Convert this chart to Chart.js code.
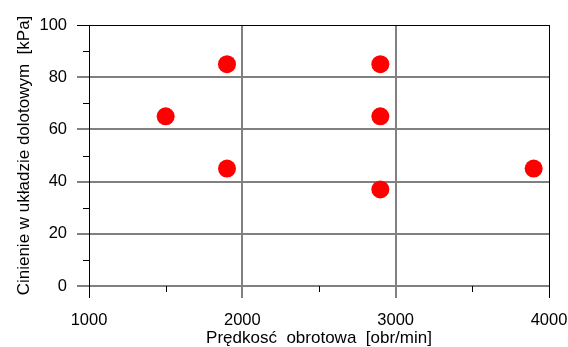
<!DOCTYPE html>
<html lang="pl">
<head>
<meta charset="UTF-8">
<title>Cinienie w układzie dolotowym</title>
<script src="https://cdn.jsdelivr.net/npm/chart.js"></script>
<style>
    html, body { margin: 0; padding: 0; background: #fff; }
    #wrap { width: 568px; height: 347px; }
</style>
</head>
<body>
<div id="wrap"><canvas id="myChart"></canvas></div>
<script>
    // data
    var speed = [1500, 1900, 1900, 2900, 2900, 2900, 3900];
    var pressure = [65, 85, 45, 85, 65, 37, 45];
    var xLabels = [1000, 2000, 3000, 4000];
    var yLabels = [0, 20, 40, 60, 80, 100];

    var GRAY = '#808080';
    var FONT = 'Liberation Sans, Arial, sans-serif';

    var points = speed.map(function (s, i) { return { x: s, y: pressure[i] }; });

    // short minor tick marks (library only has one tick length per axis)
    var minorTicks = {
        id: 'minorTicks',
        afterDraw: function (chart) {
            var c = chart.ctx;
            var xs = chart.scales.x, ys = chart.scales.y;
            c.save();
            c.strokeStyle = '#000';
            c.lineWidth = 1;
            c.beginPath();
            xs.ticks.forEach(function (t) {
                if (xLabels.indexOf(t.value) === -1) {
                    var px = Math.round(xs.getPixelForValue(t.value)) + 0.5;
                    c.moveTo(px, ys.bottom);
                    c.lineTo(px, ys.bottom + 6);
                }
            });
            ys.ticks.forEach(function (t) {
                if (yLabels.indexOf(t.value) === -1) {
                    var py = Math.round(ys.getPixelForValue(t.value)) + 0.5;
                    c.moveTo(xs.left, py);
                    c.lineTo(xs.left - 6, py);
                }
            });
            c.stroke();
            c.restore();
        }
    };

    var ctx = document.getElementById('myChart').getContext('2d');
    var myChart = new Chart(ctx, {
        type: 'scatter',
        data: {
            datasets: [{
                data: points,
                backgroundColor: '#ff0000',
                borderWidth: 0,
                pointRadius: 9,
                pointHoverRadius: 9
            }]
        },
        plugins: [minorTicks],
        options: {
            responsive: true,
            maintainAspectRatio: false,
            animation: false,
            layout: { padding: { top: 25, right: 0, left: 0, bottom: 0 } },
            plugins: { legend: { display: false }, tooltip: { enabled: false } },
            scales: {
                x: {
                    type: 'linear',
                    min: 1000,
                    max: 4000,
                    afterFit: function (s) { s.height = 61; s.paddingRight = 19; },
                    border: { display: false },
                    grid: {
                        tickLength: 12,
                        color: function (c) {
                            var v = c.tick.value;
                            if (v === 1000 || v === 4000) return '#000';
                            return xLabels.indexOf(v) !== -1 ? GRAY : 'rgba(0,0,0,0)';
                        },
                        tickColor: function (c) {
                            var v = c.tick.value;
                            if (v === 1000 || v === 4000) return '#000';
                            return xLabels.indexOf(v) !== -1 ? GRAY : 'rgba(0,0,0,0)';
                        },
                        lineWidth: function (c) {
                            var v = c.tick.value;
                            return (v === 1000 || v === 4000) ? 1 : 2;
                        }
                    },
                    ticks: {
                        stepSize: 500,
                        autoSkip: false,
                        maxRotation: 0,
                        padding: 13,
                        color: '#000',
                        font: { family: FONT, size: 16.5 },
                        callback: function (v) { return xLabels.indexOf(v) !== -1 ? String(v) : ''; }
                    },
                    title: {
                        display: true,
                        text: 'Prędkosć  obrotowa  [obr/min]',
                        color: '#000',
                        font: { family: FONT, size: 17 },
                        padding: { top: 0, bottom: -1.5 }
                    }
                },
                y: {
                    min: 0,
                    max: 100,
                    afterFit: function (s) { s.width = 89; },
                    border: { display: true, color: '#000', width: 1 },
                    grid: {
                        tickLength: 12,
                        color: function (c) {
                            var v = c.tick.value;
                            if (v === 100) return '#000';
                            return yLabels.indexOf(v) !== -1 ? GRAY : 'rgba(0,0,0,0)';
                        },
                        tickColor: function (c) {
                            var v = c.tick.value;
                            if (v === 100) return '#000';
                            return yLabels.indexOf(v) !== -1 ? GRAY : 'rgba(0,0,0,0)';
                        },
                        lineWidth: function (c) {
                            return c.tick.value === 100 ? 1 : 2;
                        }
                    },
                    ticks: {
                        stepSize: 10,
                        autoSkip: false,
                        padding: 10,
                        color: '#000',
                        font: { family: FONT, size: 16.5 },
                        callback: function (v) { return yLabels.indexOf(v) !== -1 ? String(v) : ''; }
                    },
                    title: {
                        display: true,
                        text: 'Cinienie w układzie dolotowym  [kPa]',
                        color: '#000',
                        font: { family: FONT, size: 17 },
                        padding: { top: 14, bottom: 0 }
                    }
                }
            }
        }
    });
</script>
</body>
</html>
